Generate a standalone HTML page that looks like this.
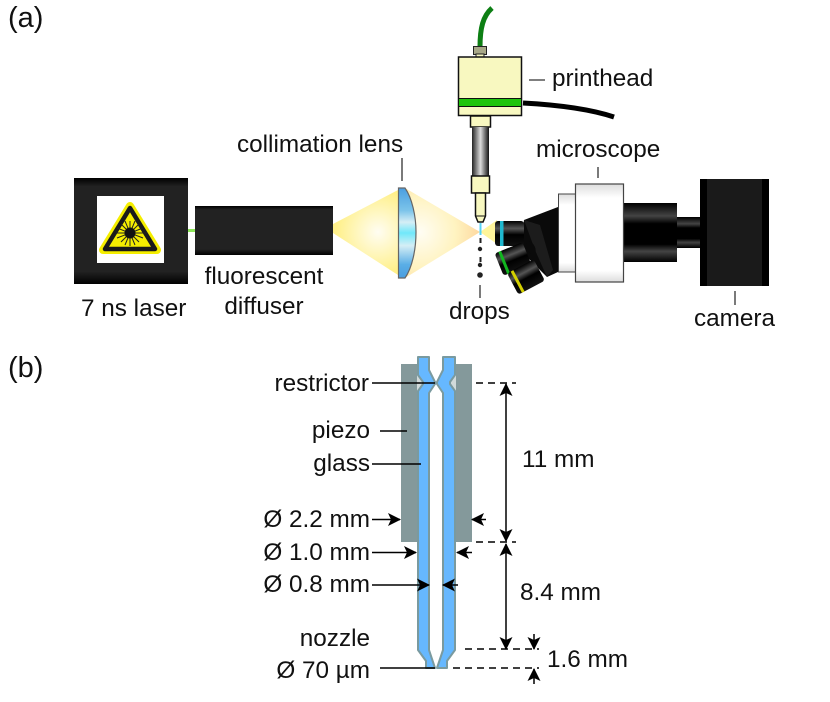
<!DOCTYPE html>
<html><head><meta charset="utf-8">
<style>html,body{margin:0;padding:0;background:#fff}svg{display:block}text{font-family:"Liberation Sans",Arial,sans-serif;font-size:24.3px;fill:#111}</style>
</head><body>
<svg width="830" height="702" viewBox="0 0 830 702" xmlns="http://www.w3.org/2000/svg">
<defs>
<linearGradient id="dk" x1="0" y1="0" x2="0" y2="1"><stop offset="0" stop-color="#000"/><stop offset=".08" stop-color="#222"/><stop offset=".88" stop-color="#222"/><stop offset="1" stop-color="#000"/></linearGradient>
<linearGradient id="tube" x1="0" y1="0" x2="0" y2="1"><stop offset="0" stop-color="#000"/><stop offset=".22" stop-color="#444"/><stop offset=".35" stop-color="#000"/><stop offset=".7" stop-color="#000"/><stop offset=".82" stop-color="#444"/><stop offset="1" stop-color="#000"/></linearGradient>
<linearGradient id="obj" x1="0" y1="0" x2="0" y2="1"><stop offset="0" stop-color="#000"/><stop offset=".3" stop-color="#555"/><stop offset=".55" stop-color="#000"/><stop offset="1" stop-color="#111"/></linearGradient>
<linearGradient id="steel" x1="0" y1="0" x2="1" y2="0"><stop offset="0" stop-color="#222"/><stop offset=".5" stop-color="#ddd"/><stop offset="1" stop-color="#111"/></linearGradient>
<linearGradient id="wht" x1="0" y1="0" x2="0" y2="1"><stop offset="0" stop-color="#ddd"/><stop offset=".14" stop-color="#fff"/><stop offset=".88" stop-color="#fff"/><stop offset="1" stop-color="#ddd"/></linearGradient>
<linearGradient id="lensg" x1="0" y1="0" x2="0" y2="1"><stop offset="0" stop-color="#4a9ee0"/><stop offset=".25" stop-color="#7cc4ea"/><stop offset=".38" stop-color="#d5eef5"/><stop offset=".5" stop-color="#70e8fa"/><stop offset=".64" stop-color="#d5eef5"/><stop offset=".85" stop-color="#5aaee6"/><stop offset="1" stop-color="#4a9ee0"/></linearGradient>
<radialGradient id="beamL" gradientUnits="userSpaceOnUse" cx="378" cy="232" r="42"><stop offset="0" stop-color="#fffdf2"/><stop offset="1" stop-color="#fff08a"/></radialGradient>
<radialGradient id="beamR" gradientUnits="userSpaceOnUse" cx="420" cy="232" r="60"><stop offset="0" stop-color="#fffdf4"/><stop offset=".6" stop-color="#fff3c0"/><stop offset="1" stop-color="#fdd8a0"/></radialGradient>
<marker id="ah" viewBox="0 0 13 13" refX="12" refY="6.500" markerWidth="13" markerHeight="13" markerUnits="userSpaceOnUse" orient="auto"><path d="M0 0L13 6.500L0 13L3 6.500Z" fill="#000"/></marker>
</defs>

<text x="8" y="27" style="font-size:29px">(a)</text>
<text x="8" y="377" style="font-size:29px">(b)</text>

<!-- laser -->
<rect x="188" y="229" width="8" height="3" fill="#8ee85a"/>
<rect x="74" y="178" width="114" height="106" fill="url(#dk)"/>
<rect x="97" y="196" width="67" height="67" fill="#fff"/>
<path d="M130 206L157 250H103Z" fill="#f5ee00" stroke="#f5ee00" stroke-width="8" stroke-linejoin="round"/>
<path d="M130 208L155 249H105Z" fill="#f5ee00" stroke="#1a1a1a" stroke-width="4.500" stroke-linejoin="round"/>
<g stroke="#222" stroke-width="1"><path d="M116 233H147M130 221V246M121 224L139 242M139 224L121 242M117 228L143 238M117 238L143 228M125 221L135 245M135 221L125 245"/></g>
<circle cx="130" cy="233" r="5.500" fill="#111"/>

<!-- diffuser -->
<rect x="195" y="206" width="138" height="49" fill="url(#dk)"/>

<!-- beam -->
<path d="M333 224L398 190V275L333 233Z" fill="url(#beamL)"/>
<path d="M405 188L480 232L405 278Z" fill="url(#beamR)"/>
<path d="M497 220L480 232L497 244Z" fill="#fff59a"/>

<!-- lens -->
<path d="M398.500 188H405C412 198 416 216 416 232C416 250 412 268 405 278H398.500Z" fill="url(#lensg)" stroke="#666" stroke-width="1.200"/>

<!-- jet & drops -->
<rect x="479.500" y="223" width="2" height="12" fill="#58d4f5"/>
<g fill="#222"><rect x="479.500" y="238" width="2" height="5"/><circle cx="480" cy="249" r="2.200"/><rect x="479.500" y="257" width="2" height="5"/><circle cx="480" cy="265" r="2.200"/><circle cx="480" cy="275" r="2.800"/></g>

<!-- printhead -->
<path d="M480 47C480 28 483 16 492 8" fill="none" stroke="#0d7f14" stroke-width="5"/>
<path d="M523 103C560 105 590 109 614 117" fill="none" stroke="#000" stroke-width="5"/>
<rect x="473.500" y="46.500" width="13" height="8" fill="#a8a888" stroke="#222"/>
<rect x="476" y="54" width="8" height="3" fill="#f8f8c0" stroke="#222"/>
<rect x="458.500" y="57" width="63" height="58.500" fill="#f8f8c0" stroke="#111" stroke-width="1.500"/>
<rect x="459" y="99" width="62" height="7" fill="#1fc40c"/>
<path d="M459 98.500H521M459 106.500H521" stroke="#111"/>
<rect x="470.500" y="116" width="20" height="11" fill="#f8f8c0" stroke="#111" stroke-width="1.500"/>
<rect x="472" y="127" width="17" height="49" fill="url(#steel)"/>
<rect x="471.500" y="176" width="18" height="17" fill="#f8f8c0" stroke="#111" stroke-width="1.500"/>
<path d="M475.500 193H485.500V216L483 222H478L475.500 216Z" fill="#f8f8c0" stroke="#111" stroke-width="1.500"/>
<path d="M475.500 216H485.500" stroke="#111"/>

<!-- microscope -->
<rect x="677" y="217" width="24" height="31" fill="url(#tube)"/>
<rect x="624" y="203" width="53" height="59" fill="url(#tube)"/>
<rect x="700" y="179" width="69" height="107" fill="#1a1a1a"/>
<rect x="700" y="179" width="7" height="107" fill="#000"/><rect x="762" y="179" width="7" height="107" fill="#000"/>
<path d="M558 207L524 220L520 250L547 277L558 272Z" fill="#0a0a0a"/>
<path d="M524 220L540 225L553 270L547 277L535 250Z" fill="#1c1c1c"/>
<ellipse cx="531" cy="248" rx="4" ry="7" fill="#0a0a0a" transform="rotate(-25 531 248)"/>
<rect x="495" y="221" width="29" height="25" rx="3" fill="url(#obj)"/>
<rect x="500" y="221" width="3.500" height="25" fill="#1fb8cf"/>
<g transform="translate(513 259) rotate(-22)"><rect x="-15" y="-12" width="30" height="24" rx="3" fill="url(#obj)"/><rect x="-11" y="-12" width="3" height="24" fill="#12b520"/></g>
<g transform="translate(526 277) rotate(-28)"><rect x="-15" y="-12" width="30" height="24" rx="3" fill="url(#obj)"/><rect x="-11" y="-12" width="3" height="24" fill="#d4d000"/></g>
<rect x="558.500" y="194" width="17" height="78" fill="url(#wht)" stroke="#444" stroke-width="1"/>
<rect x="575.500" y="184" width="48" height="98" fill="url(#wht)" stroke="#444" stroke-width="1.200"/>

<!-- top labels -->
<text x="552" y="86">printhead</text>
<text x="536" y="157">microscope</text>
<text x="237" y="152">collimation lens</text>
<text x="81" y="316">7 ns laser</text>
<text x="264" y="284" text-anchor="middle">fluorescent</text>
<text x="264" y="314" text-anchor="middle">diffuser</text>
<text x="449" y="319">drops</text>
<text x="694" y="326">camera</text>
<g stroke="#333" stroke-width="1.300" fill="none"><path d="M529 80H545M598 167V178M402 158V181M480 285V298M735 291V305"/></g>

<!-- (b) piezo -->
<rect x="401" y="364" width="71" height="178" fill="#84999b"/>
<path d="M417 374L424 382V384L417 392Z" fill="#d2dada"/>
<path d="M456 374L449 382V384L456 392Z" fill="#d2dada"/>
<rect x="429" y="357" width="14" height="312" fill="#fff"/>
<path d="M418 357H429V370L435 382V384L429 393V650L435 668H426L426 661L418 650V391L423 384V382L418 375Z" fill="#66b8ff" stroke="#7a9a9f" stroke-width="2" stroke-linejoin="round"/>
<path d="M443 357H455V375L450 382V384L455 391V650L447 661V668H437L443 650V393L437 384V382L443 370Z" fill="#66b8ff" stroke="#7a9a9f" stroke-width="2" stroke-linejoin="round"/>

<!-- (b) leader lines & arrows -->
<g stroke="#000" stroke-width="1.500" fill="none">
<path d="M372 383H435M380 431H407M372 464H421M380 668H435"/>
<path d="M372 519.500H400" marker-end="url(#ah)"/><path d="M486 519.500H472" marker-end="url(#ah)"/>
<path d="M372 552.500H416" marker-end="url(#ah)"/><path d="M472 552.500H457" marker-end="url(#ah)"/>
<path d="M372 585H429" marker-end="url(#ah)"/><path d="M458 585H443" marker-end="url(#ah)"/>
<path d="M506 462V384" marker-end="url(#ah)"/><path d="M506 462V541" marker-end="url(#ah)"/>
<path d="M506 600V544" marker-end="url(#ah)"/><path d="M506 600V649" marker-end="url(#ah)"/>
<path d="M534 634V649" marker-end="url(#ah)"/><path d="M534 684V669" marker-end="url(#ah)"/>
</g>
<g stroke="#000" stroke-width="1.500" stroke-dasharray="7 5" fill="none">
<path d="M476 383H516M476 542H516M465 649H539M453 668H539"/>
</g>

<text x="369" y="391" text-anchor="end">restrictor</text>
<text x="370" y="438" text-anchor="end">piezo</text>
<text x="370" y="471" text-anchor="end">glass</text>
<text x="370" y="527" text-anchor="end">Ø 2.2 mm</text>
<text x="370" y="560" text-anchor="end">Ø 1.0 mm</text>
<text x="370" y="592" text-anchor="end">Ø 0.8 mm</text>
<text x="370" y="646" text-anchor="end">nozzle</text>
<text x="370" y="678" text-anchor="end">Ø 70 µm</text>
<text x="522" y="467">11 mm</text>
<text x="520" y="600">8.4 mm</text>
<text x="547" y="667">1.6 mm</text>
</svg>
</body></html>
